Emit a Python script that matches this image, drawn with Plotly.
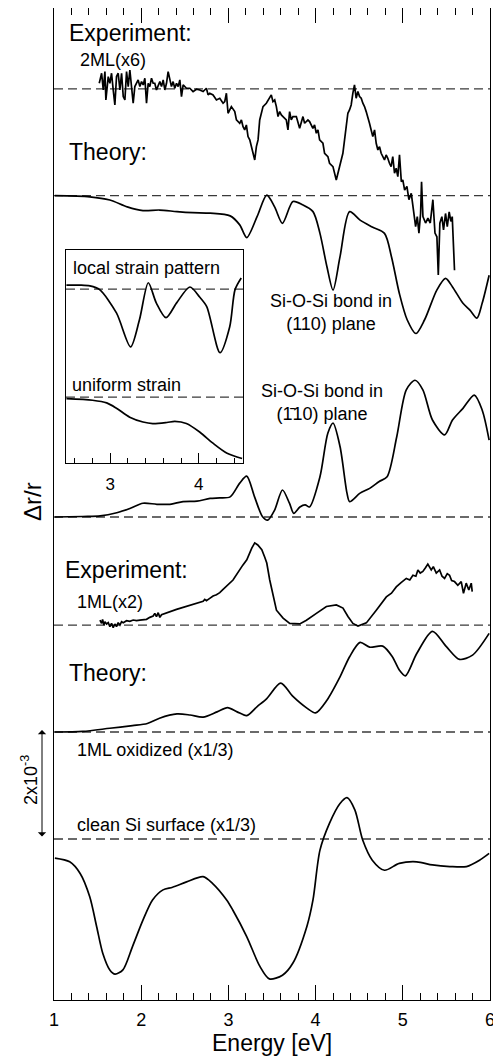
import plotly.graph_objects as go

# ---------------- data (values in units of 1e-3 delta r/r, relative to each baseline) ----------------
exp2ml_e = [1.519,1.546,1.565,1.584,1.595,1.622,1.641,1.660,1.679,1.698,1.717,1.736,1.756,1.775,1.794,1.813,1.832,1.851,1.870,1.889,
            1.908,1.927,1.946,1.965,1.985,2.004,2.023,2.042,2.061,2.080,2.099,2.118,2.137,2.156,2.175,2.195,2.214,2.233,2.252,2.271,
            2.290,2.309,2.328,2.347,2.366,2.385,2.405,2.424,2.443,2.462,2.481,2.519,2.557,2.595,2.634,2.672,2.710,2.748,2.767,2.786,
            2.824,2.863,2.901,2.939,2.958,2.977,2.996,3.034,3.073,3.092,3.130,3.149,3.168,3.187,3.206,3.225,3.245,3.283,3.302,3.321,
            3.340,3.359,3.397,3.435,3.473,3.492,3.511,3.531,3.550,3.569,3.588,3.607,3.626,3.664,3.683,3.702,3.721,3.740,3.779,3.798,
            3.817,3.855,3.874,3.912,3.931,3.969,3.988,4.008,4.027,4.046,4.084,4.103,4.141,4.160,4.199,4.237,4.256,4.275,4.294,4.313,
            4.332,4.351,4.370,4.389,4.408,4.427,4.446,4.465,4.485,4.504,4.523,4.542,4.561,4.580,4.599,4.618,4.637,4.656,4.676,4.695,
            4.714,4.733,4.752,4.771,4.790,4.809,4.828,4.847,4.866,4.885,4.905,4.924,4.943,4.962,4.983,5.000,5.021,5.047,5.070,5.097,
            5.124,5.147,5.166,5.185,5.204,5.215,5.231,5.261,5.288,5.315,5.345,5.369,5.391,5.407,5.425,5.448,5.467,5.490,5.510,5.532,
            5.551,5.567,5.593]
exp2ml_v = [0.107,0.296,-0.019,0.327,-0.208,0.233,0.107,0.296,-0.019,-0.302,0.233,0.296,-0.019,0.296,-0.145,-0.208,0.327,0.044,0.358,-0.019,
            -0.270,0.044,0.107,0.170,0.044,0.138,0.075,0.201,-0.270,0.107,0.044,0.201,0.107,0.107,-0.019,0.075,0.138,0.044,0.170,-0.019,
            0.107,0.327,0.170,0.044,0.138,0.013,0.107,0.044,0.170,-0.145,0.075,0.013,0.013,-0.050,-0.006,-0.019,-0.050,0.013,-0.113,-0.082,
            -0.113,-0.208,-0.176,-0.270,-0.239,-0.082,-0.459,-0.333,-0.428,-0.585,-0.648,-0.585,-0.711,-0.774,-0.679,-0.899,-0.962,-1.214,-1.340,-1.088,
            -0.962,-0.585,-0.333,-0.270,-0.176,-0.113,-0.239,-0.208,-0.333,-0.522,-0.428,-0.491,-0.522,-0.585,-0.774,-0.428,-0.585,-0.522,-0.522,-0.616,
            -0.742,-0.522,-0.648,-0.585,-0.616,-0.742,-0.679,-0.836,-0.774,-0.962,-1.025,-1.214,-1.277,-1.403,-1.465,-1.717,-1.591,-1.465,-1.340,-1.214,
            -0.962,-0.648,-0.459,-0.396,-0.302,-0.082,0.075,-0.176,-0.050,-0.145,-0.176,-0.270,-0.333,-0.428,-0.522,-0.648,-0.774,-0.899,-0.774,-1.025,
            -1.151,-1.088,-1.214,-1.277,-1.340,-1.245,-1.308,-1.403,-1.465,-1.277,-1.591,-1.497,-1.654,-1.245,-1.750,-1.717,-1.910,-1.840,-2.090,-1.970,
            -2.350,-2.600,-2.410,-2.720,-2.350,-1.750,-2.410,-2.530,-2.440,-2.530,-2.090,-2.720,-2.790,-3.510,-2.530,-2.410,-2.660,-2.350,-2.600,-2.320,
            -2.500,-2.410,-3.420]

th110_e = [1.01,1.41,1.64,1.84,2.02,2.21,2.41,2.59,2.79,3.02,3.13,3.21,3.33,3.44,3.53,3.62,3.74,3.85,3.97,4.05,
           4.13,4.20,4.28,4.39,4.51,4.65,4.79,4.87,4.96,5.05,5.15,5.25,5.39,5.49,5.57,5.69,5.77,5.85,5.91,5.99]
th110_v = [0.0,-0.02,-0.08,-0.21,-0.28,-0.27,-0.30,-0.32,-0.33,-0.38,-0.55,-0.79,-0.39,0.01,-0.21,-0.52,-0.11,-0.17,-0.30,-0.71,
           -1.34,-1.78,-1.15,-0.30,-0.46,-0.59,-0.71,-1.15,-1.84,-2.34,-2.60,-2.34,-1.78,-1.56,-1.72,-2.03,-2.16,-2.31,-2.03,-1.50]

th1m10_e = [1.01,1.33,1.53,1.72,1.87,2.02,2.18,2.33,2.48,2.64,2.79,2.90,3.02,3.13,3.21,3.30,3.39,3.45,3.53,3.62,
            3.70,3.75,3.82,3.88,3.93,4.05,4.14,4.20,4.28,4.36,4.39,4.51,4.62,4.73,4.82,4.93,5.04,5.14,5.23,5.34,
            5.48,5.57,5.69,5.82,5.91,5.99]
th1m10_v = [0.0,0.01,0.02,0.08,0.16,0.26,0.24,0.24,0.29,0.30,0.35,0.36,0.38,0.64,0.77,0.38,0.01,-0.06,0.13,0.51,
            0.26,0.07,0.19,0.23,0.19,0.76,1.58,1.77,1.33,0.45,0.29,0.45,0.54,0.67,0.76,1.51,2.40,2.58,2.40,1.83,
            1.55,1.83,2.05,2.30,2.02,1.45]

exp1ml_e = [1.527,1.546,1.557,1.572,1.584,1.603,1.622,1.641,1.660,1.679,1.698,1.717,1.736,1.756,1.775,1.794,1.832,1.870,1.908,1.946,
            1.985,2.023,2.061,2.099,2.137,2.156,2.175,2.195,2.214,2.233,2.271,2.328,2.366,2.405,2.443,2.481,2.519,2.557,2.595,2.634,
            2.672,2.710,2.729,2.748,2.786,2.824,2.863,2.901,2.939,2.977,3.015,3.053,3.165,3.211,3.268,3.302,3.337,3.383,3.417,3.440,
            3.474,3.551,3.627,3.703,3.818,3.895,4.009,4.124,4.238,4.314,4.371,4.428,4.486,4.582,4.696,4.811,4.870,4.925,4.980,5.040,
            5.080,5.116,5.150,5.173,5.200,5.230,5.260,5.287,5.326,5.350,5.384,5.422,5.450,5.479,5.510,5.536,5.560,5.593,5.631,5.670,
            5.696,5.727,5.757,5.785,5.796]
exp1ml_v = [0.094,0.031,0.107,0.0,0.063,0.019,0.044,-0.031,0.031,-0.050,0.019,-0.031,0.044,0.0,0.063,0.044,0.082,0.069,0.094,0.082,
            0.094,0.107,0.107,0.145,0.170,0.220,0.157,0.233,0.145,0.195,0.220,0.258,0.283,0.296,0.314,0.333,0.346,0.371,0.377,0.409,
            0.421,0.447,0.484,0.459,0.503,0.547,0.572,0.610,0.673,0.736,0.799,0.849,1.13,1.23,1.45,1.55,1.51,1.42,1.28,1.17,
            0.85,0.28,0.13,0.03,0.02,0.09,0.22,0.35,0.38,0.32,0.16,0.03,-0.02,0.04,0.28,0.53,0.60,0.72,0.80,0.88,
            0.85,0.94,0.92,1.04,0.98,1.01,1.08,1.15,1.04,1.10,0.98,1.04,0.92,0.88,0.97,0.94,0.84,0.82,0.75,0.82,
            0.60,0.79,0.66,0.79,0.63]

th1ml_e = [1.01,1.33,1.64,1.90,2.07,2.21,2.41,2.56,2.71,2.87,2.99,3.10,3.21,3.33,3.44,3.60,3.74,3.90,4.00,4.13,
           4.28,4.39,4.51,4.62,4.77,4.88,4.96,5.03,5.16,5.34,5.50,5.65,5.80,5.99]
th1ml_v = [0.0,0.01,0.07,0.12,0.16,0.26,0.34,0.32,0.28,0.38,0.46,0.38,0.31,0.48,0.63,0.92,0.67,0.45,0.36,0.60,
           1.04,1.42,1.69,1.60,1.62,1.42,1.17,1.06,1.48,1.90,1.61,1.37,1.45,1.86]

clean_e = [1.01,1.18,1.30,1.41,1.49,1.56,1.64,1.70,1.79,1.90,2.02,2.13,2.25,2.36,2.52,2.71,2.82,2.98,3.05,3.21,
           3.36,3.47,3.62,3.74,3.90,3.97,4.05,4.16,4.28,4.36,4.45,4.54,4.65,4.79,4.96,5.16,5.34,5.54,5.73,5.88,5.99]
clean_v = [-0.36,-0.43,-0.65,-1.09,-1.66,-2.16,-2.47,-2.55,-2.47,-2.03,-1.53,-1.15,-0.96,-0.91,-0.81,-0.71,-0.84,-1.15,-1.34,-1.84,
           -2.40,-2.64,-2.57,-2.34,-1.65,-1.15,-0.21,0.30,0.67,0.78,0.55,-0.02,-0.40,-0.59,-0.46,-0.43,-0.49,-0.52,-0.52,-0.40,-0.27]

inset_local_e = [2.505,2.66,2.77,2.88,3.07,3.23,3.33,3.43,3.52,3.63,3.75,3.90,4.01,4.09,4.24,4.35,4.41,4.48]
inset_local_v = [0.075,0.075,0.06,-0.01,-0.45,-1.09,-0.58,0.12,-0.26,-0.54,-0.26,0.04,-0.15,-0.33,-1.20,-0.71,-0.01,0.21]

inset_uniform_e = [2.505,2.80,2.96,3.07,3.22,3.37,3.48,3.64,3.73,3.86,4.01,4.16,4.32,4.49]
inset_uniform_v = [-0.03,-0.06,-0.11,-0.21,-0.38,-0.47,-0.50,-0.48,-0.46,-0.50,-0.66,-0.87,-1.06,-1.16]

x_ticks = [1, 2, 3, 4, 5, 6]
inset_ticks = [3, 4]

# ---------------- layout constants ----------------
# the page body has an 8px margin, so the figure is drawn 8px in from the window corner
BODY = 8
W, H = 501 - BODY, 1059 - BODY
ML, MR, MT, MB = 54 - BODY, 11, 0, 59
PX_PER_UNIT = 53.0
Y_TOP = (H - MT - MB) / PX_PER_UNIT
PLOT_W = W - ML - MR

OFF_EXP2 = 17.19
OFF_TH110 = 15.175
OFF_TH1M10 = 9.113
OFF_EXP1 = 7.075
OFF_TH1 = 5.057
OFF_CLEAN = 3.038

IN_LOCAL = 3.283
IN_UNIF = 1.245
IN_TOP = 4.02

FONT = "Liberation Sans, Arial, Helvetica, sans-serif"
LW = 1.7
BIG, SMALL = 23, 18

# helpers: window pixel -> data / paper coordinates (for text placement only)
def px_x(px):
    return 1 + (px - 54) / (PLOT_W / 5.0)

def px_y(py):
    return (1000 - py) / PX_PER_UNIT

def paper_x(px):
    return (px - 54) / PLOT_W

fig = go.Figure()

def add_curve(e, v, off, shape, xa="x", ya="y"):
    line = dict(color="black", width=LW, shape=shape)
    if shape == "spline":
        line["smoothing"] = 0.8
    fig.add_trace(go.Scatter(x=e, y=[off + a for a in v], mode="lines", line=line,
                             xaxis=xa, yaxis=ya, showlegend=False, hoverinfo="skip"))

add_curve(exp2ml_e, exp2ml_v, OFF_EXP2, "linear")
add_curve(th110_e, th110_v, OFF_TH110, "spline")
add_curve(th1m10_e, th1m10_v, OFF_TH1M10, "spline")
add_curve(exp1ml_e, exp1ml_v, OFF_EXP1, "linear")
add_curve(th1ml_e, th1ml_v, OFF_TH1, "spline")
add_curve(clean_e, clean_v, OFF_CLEAN, "spline")
add_curve(inset_local_e, inset_local_v, IN_LOCAL, "spline", "x2", "y2")
add_curve(inset_uniform_e, inset_uniform_v, IN_UNIF, "spline", "x2", "y2")

DASH = "9px,5px"
for off in [OFF_EXP2, OFF_TH110, OFF_TH1M10, OFF_EXP1, OFF_TH1, OFF_CLEAN]:
    fig.add_shape(type="line", xref="x", yref="y", x0=1, x1=6, y0=off, y1=off,
                  line=dict(color="#3a3a3a", width=1.3, dash=DASH), layer="below")
for off in [IN_LOCAL, IN_UNIF]:
    fig.add_shape(type="line", xref="x2", yref="y2", x0=2.5, x1=4.5, y0=off, y1=off,
                  line=dict(color="#3a3a3a", width=1.3, dash=DASH), layer="below")

def label(text, px, py, size, anchor="left"):
    fig.add_annotation(text=text, x=px_x(px), y=px_y(py), xref="x", yref="y", showarrow=False,
                       xanchor=anchor, yanchor="middle", font=dict(family=FONT, size=size, color="black"))

label("Experiment:", 67, 33, BIG)
label("2ML(x6)", 78, 60, SMALL)
label("Theory:", 67, 152, BIG)
label("local strain pattern", 71, 268, SMALL)
label("uniform strain", 70, 385, SMALL)
label("Si-O-Si bond in<br>(110) plane", 331, 312, SMALL, "center")
label("Si-O-Si bond in<br>(1\u030410) plane", 322, 402, SMALL, "center")
label("Experiment:", 63, 570, BIG)
label("1ML(x2)", 75, 602, SMALL)
label("Theory:", 67, 673, BIG)
label("1ML oxidized (x1/3)", 75, 750, SMALL)
label("clean Si surface (x1/3)", 75, 825, SMALL)

fig.add_annotation(text="\u0394r/r", x=paper_x(32), y=px_y(502), xref="paper", yref="y", showarrow=False,
                   xanchor="center", yanchor="middle",
                   textangle=-90, font=dict(family=FONT, size=24, color="black"))
fig.add_annotation(text="2x10<sup>-3</sup>", x=paper_x(29), y=px_y(780), xref="paper", yref="y", showarrow=False,
                   xanchor="center", yanchor="middle",
                   textangle=-90, font=dict(family=FONT, size=SMALL, color="black"))
fig.add_annotation(x=paper_x(42), y=px_y(730), xref="paper", yref="y", ax=0, ay=108,
                   showarrow=True, arrowhead=1, startarrowhead=1, arrowside="end+start",
                   arrowwidth=1.0, arrowsize=1.4, startarrowsize=1.4, arrowcolor="black", text="")
fig.add_annotation(text="Energy [eV]", x=0.5, y=-0.043, xref="paper", yref="paper", showarrow=False,
                   xanchor="center", yanchor="middle", font=dict(family=FONT, size=BIG, color="black"))

fig.update_layout(
    width=W, height=H, margin=dict(l=ML, r=MR, t=MT, b=MB, pad=0),
    paper_bgcolor="white", plot_bgcolor="white", showlegend=False,
    xaxis=dict(range=[1, 6], tickvals=x_ticks, ticks="inside", ticklen=15, tickwidth=1.2, tickcolor="black",
               minor=dict(dtick=0.2, tick0=1, ticks="inside", ticklen=7, tickwidth=1.2, tickcolor="black", showgrid=False),
               showline=True, linecolor="black", linewidth=1.3, mirror="ticks", showgrid=False, zeroline=False,
               ticklabelstandoff=3,
               tickfont=dict(family=FONT, size=SMALL, color="black")),
    yaxis=dict(range=[0, Y_TOP], showticklabels=False, ticks="", showline=True, linecolor="black", linewidth=1.3,
               mirror=True, showgrid=False, zeroline=False),
    xaxis2=dict(domain=[0.0275, 0.4335], anchor="y2", range=[2.5, 4.5], tickvals=inset_ticks, ticks="inside",
                ticklen=10, tickwidth=1.2, tickcolor="black",
                minor=dict(dtick=0.2, tick0=2.6, ticks="inside", ticklen=5, tickwidth=1.2, tickcolor="black", showgrid=False),
                showline=True, linecolor="black", linewidth=1.3, mirror=True, showgrid=False, zeroline=False,
                ticklabelstandoff=5,
                tickfont=dict(family=FONT, size=17, color="black")),
    yaxis2=dict(domain=[0.5413, 0.756], anchor="x2", range=[0, IN_TOP], showticklabels=False, ticks="",
                showline=True, linecolor="black", linewidth=1.3, mirror=True, showgrid=False, zeroline=False),
)

fig.write_html("out.html")
